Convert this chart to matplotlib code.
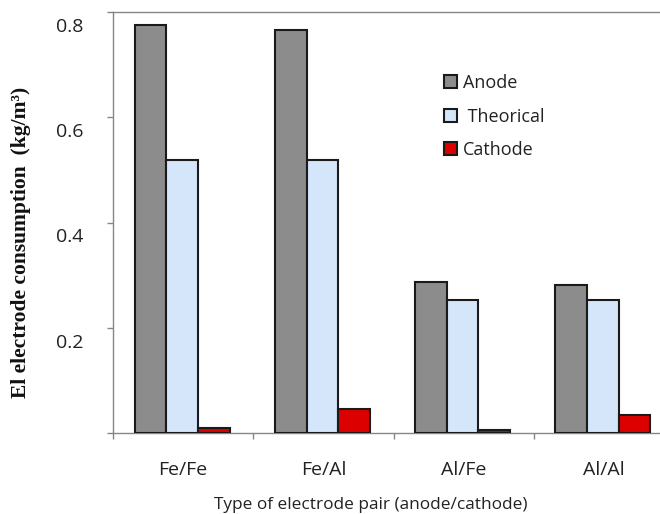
"""Electrode consumption by electrode pair - grouped bar chart."""
import numpy as np
import matplotlib
matplotlib.use('Agg')
import matplotlib.pyplot as plt
import matplotlib.patches as mpatches
from matplotlib.transforms import ScaledTranslation

# ── Data ──────────────────────────────────────────────────────────────────────
pairs = ['Fe/Fe', 'Fe/Al', 'Al/Fe', 'Al/Al']
series_names = ['Anode', ' Theorical', 'Cathode']
anode = [0.776, 0.765, 0.287, 0.282]
theorical = [0.519, 0.519, 0.252, 0.252]
cathode = [0.009, 0.045, 0.005, 0.034]
yticks = [0.0, 0.2, 0.4, 0.6, 0.8]
ytick_labels = ['', '0.2', '0.4', '0.6', '0.8']

colors = ['#8c8c8c', '#d5e5fa', '#dc0000']
FONT = 'Open Sans'
AX_GRAY = '#878787'

fig = plt.figure(figsize=(6.6, 5.14), dpi=100)
fig.patch.set_facecolor('white')
# plot area runs slightly past the right edge of the picture (cropped original)
ax = fig.add_axes([113/660, 1 - 433/514, 561/660, 421/514])

x = np.arange(len(pairs))
w = 0.226
for i, (vals, c, name) in enumerate(zip([anode, theorical, cathode], colors, series_names)):
    ax.bar(x + (i - 1) * w - 0.007, vals, w, color=c, edgecolor='#1a1a1a',
           lw=1.5, label=name, zorder=3)

ax.set_xlim(-0.5, 3.5)
ax.set_ylim(0, 0.8)

# spines
for s in ['top', 'left', 'bottom']:
    ax.spines[s].set_color(AX_GRAY)
    ax.spines[s].set_linewidth(1.0)
ax.spines['right'].set_visible(False)

# y axis
ax.set_yticks(yticks)
ax.set_yticklabels(ytick_labels, fontsize=14, family=FONT, color='#222222')
ax.tick_params(axis='y', direction='out', length=4.3, width=1.0, color=AX_GRAY, pad=17)
off = ScaledTranslation(0, -13/100, fig.dpi_scale_trans)
for lab in ax.get_yticklabels():
    lab.set_transform(lab.get_transform() + off)

# x axis: labels at centres, tick marks between categories
ax.set_xticks(x)
ax.set_xticklabels(pairs, fontsize=14, family=FONT, color='#222222')
ax.tick_params(axis='x', which='major', length=0, pad=20)
ax.set_xticks(np.arange(-0.5, 4, 1.0), minor=True)
ax.tick_params(axis='x', which='minor', direction='out', length=4.3, width=1.0, color=AX_GRAY)

# axis titles
fig.text(21/660, 1 - 242/514, 'El electrode consumption  (kg/m³)',
         rotation=90, ha='center', va='center', fontsize=15.5, fontweight='bold',
         family='Liberation Serif', color='#111111')
fig.text(371/660, 1 - 505/514, 'Type of electrode pair (anode/cathode)',
         ha='center', va='center', fontsize=12.4, family=FONT, color='#222222')

# legend
handles = [mpatches.Patch(facecolor=c, edgecolor='#1a1a1a', lw=1.5) for c in colors]
leg = fig.legend(handles, series_names, loc='upper left',
                 bbox_to_anchor=(444/660, 1 - 74/514), frameon=False,
                 prop={'family': FONT, 'size': 13}, handlelength=0.72,
                 handleheight=0.72, handletextpad=0.35, labelspacing=0.86,
                 borderpad=0, borderaxespad=0)
for t in leg.get_texts():
    t.set_color('#222222')

plt.savefig('out.png', dpi=100, facecolor='white')
plt.close()
